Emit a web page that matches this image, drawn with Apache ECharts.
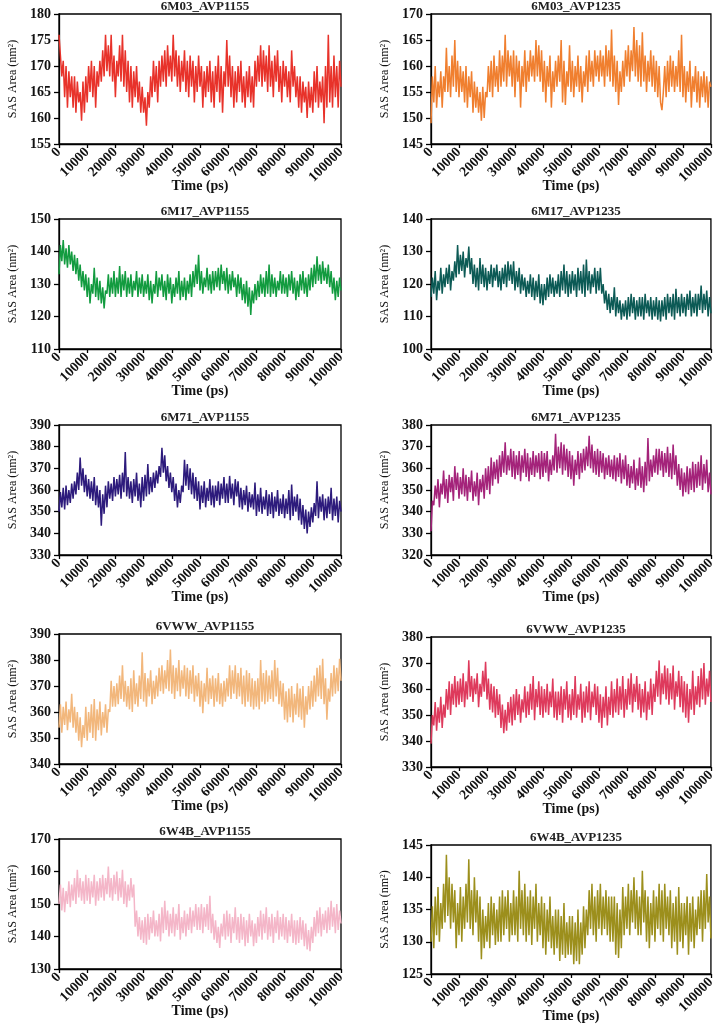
<!DOCTYPE html>
<html><head><meta charset="utf-8">
<script src="https://cdn.jsdelivr.net/npm/echarts@6/dist/echarts.min.js"></script>
<style>html,body{margin:0;padding:0;background:#fff}#c{width:718px;height:1024px}</style>
</head><body><div id="c"></div>
<script>
// ---- data ----
const TIME_STEP_PS = 500; // sampling step of every trace, 0 .. 100000 ps
const xTicks = [0,10000,20000,30000,40000,50000,60000,70000,80000,90000,100000];
const titles = ['6M03_AVP1155','6M03_AVP1235','6M17_AVP1155','6M17_AVP1235','6M71_AVP1155','6M71_AVP1235','6VWW_AVP1155','6VWW_AVP1235','6W4B_AVP1155','6W4B_AVP1235'];
const yMin  = [155,145,110,100,330,320,340,330,130,125];
const yMax  = [180,170,150,140,390,380,390,380,170,145];
const yStep = [5,5,10,10,10,10,10,10,10,5];

const sas6M03_1155 = [
176,172,168,171,164,170,162,169,164,168,
162,168,161,167,163,165,159.5,167,161,168,
163,170,165,171,164,170,162,169,166,171,
167,173,168,176,169,174,168,176,167,172,
164,171,168,174,167,176,166,173,165,171,
163,170,162,169,164,170,163,167,161,166,
161,164,158.5,165,162,168,164,171,165,170,
163,171,166,172,167,173,166,174,168,172,
167,176,168,173,166,172,165,171,167,173,
165,171,164,172,166,171,163,170,165,172,
166,170,162,169,164,170,165,171,163,169,
162,170,165,172,163,170,161,169,166,175,
166,172,164,170,162,169,163,170,165,171,
163,168,162,169,164,170,163,168,162,171,
166,172,167,174,166,173,167,172,165,174,
166,171,164,172,167,173,165,170,163,171,
166,170,164,169,163,173,166,170,164,168,
162,168,161,167,163,166,160,167,162,166,
161,169,163,170,162,167,163,168,159,170,
162,176,163,170,162,172,164,170,162,171,
166];
const sas6M03_1235 = [
149,158,153,160,152,157,154,159,152,158,
155,163.5,155,160,154,162,156,165,155,161,
154,160,155,159,153,160,152,158,154,159,
151,157,152,156,151,155,149.5,156,150,155,
154,160,155,161,154,162,156,160,155,163,
156,162,157,166,156,163,158,162,156,163,
154,162,157,161,152,160,156,163,155,161,
157,163,158,162,157,165,158,164,157,163,
155,161,153,160,156,162,152,159,155,161,
156,162,157,165,153,161,152.5,159,156,164,
155,161,154,160,156,162,155,160,153,159,
156,162,155,163,157,161,156,163,158,162,
157,163,158,162,156,164,158,163,157,167,
156,162,155,161,152.5,159,155,161,156,163,
158,164,157,163,159,167.5,158,165,157,164,
156,166.5,157,162,155,161,157,163,156,162,
155,161,154,160,153,151.5,155,160,154,161,
155,162,156,161,155,160,156,163,155,166,
154,160,153,159,155,161,152,158,155,160,
153,159,152,158,154,159,153,158,152,157,
156];
const sas6M17_1155 = [
133,142,137,143.5,136,141,135,142,136,140,
134,139,133,138,131,136,129,134,128,133,
126,132,124,130,127,135,126,132,125,131,
124,129,122.5,128,127,133,126,132,127,134,
126,132,127,135.5,126,133,128,134,126,132,
127,133,126,131,128,134,126,132,127,133,
126,131,127,133,125,131,124,130,127,134,
126,132,128,133,126,131,125,133,127,132,
124,130,126,132,127,134,125,131,126,132,
125,131,127,133,126,134,129,136,130,139,
128,134,127,132,129,135,128,133,127,134,
128,134,129,135,128,136,130,134,128,135,
127,133,128,134,129,132,126,133,127,132,
125,130,124,131,123,129,120.5,128,124,130,
125,131,126,133,127,132,126,134,127,136,
126,133,127,132,126,131,128,134,127,133,
127,132,126,133,128,134,127,132,125,131,
126,133,128,134,127,132,126,133,128,135,
129,136,130,138.5,131,136,130,137,131,135,
130,136,129,134,127,132,125,131,126,132,
128];
const sas6M17_1235 = [
116,122,117,124,115,121,118,125,117,123,
119,125,120,126,118,124,121,127,122,132,
123,129,124,130,122,128,125,131.5,123,128,
120,126,119,125,118,128,120,126,119,125,
118,124,120,126,119,125,121,126,119,124,
118,125,120,126,119,127,121,126,120,127,
118,124,119,125,117,123,118,122,116,121,
117,123,116,122,115,121,116,123,114,120,
113.5,120,115,122,116,123,117,122,116,121,
117,123,116,124,118,126,117,124,116,123,
117,124,118,123,116,125,118,124,117,126,
116,127.5,118,124,117,123,119,125,117,124,
118,125,117,120,114,118,112,117,111,116,
112,119,110,116,111,115,109,114,110,115,
109,116,110,117,111,116,109,115,110,116,
110,116,109,117,111,115,110,116,109,115,
110,116,109,115,108.5,115,110,116,109,117,
111,116,110,117,109,118.5,111,116,110,117,
111,116,110,117,112,118,110,116,111,117,
110,117,112,119.5,111,117,112,118,110,116,
111];
const sas6M71_1155 = [
350,359,352,361,351,362,353,360,354,363,
356,364,358,368,360,375,362,370,359,367,
357,365,356,364,355,366,353,362,352,360,
343.5,358,349,362,352,364,356,363,355,366,
357,365,358,367,356,368,359,377.5,357,366,
356,364,354,365,357,368,355,363,352,366,
355,367,357,372,358,366,359,368,361,369,
363,371,366,379.5,368,376,364,371,361,368,
359,366,355,363,352,360,354,362,359,374,
362,372,360,370,358,368,356,366,355,364,
351,362,354,364,352,361,355,365,353,362,
352,362,355,364,353,363,356,366,354,363,
354,366.5,356,363,353,365,357,364,352,361,
351,360,353,362,350,359,352,358,351,363.5,
348,358,350,361,349,357,351,360,348,358,
349,359,347,357,350,360,348,356,349,358,
347,356,349,360,346,362.5,348,357,350,358,
346,356,344,353,342,351,340,350,343,352,
345,354,348,364,347,357,350,358,346,356,
347,357,349,361,346,356,348,357,345,355,
350];
const sas6M71_1235 = [
331,345,343,352,346,355,342,353,348,359,
346,355,344,357,349,356,345,361,350,358,
346,356,348,360,347,357,345,356,349,359,
345,354,347,358,343,355,349,357,346,360,
350,361,348,365,352,363,355,364,353,366,
356,368,358,372,357,366,359,369,356,368,
355,366,357,368,354,366,358,369,356,367,
354,365,357,368,356,366,358,367,355,368,
356,367,358,368,354,364,357,366,359,376,
358,370,360,372,357,371,359,369,356,368,
355,366,352,364,357,368,355,367,358,369,
359,370,361,375,360,371,358,368,357,369,
356,368,358,367,355,365,357,366,356,364,
355,366,354,365,356,367,353,364,355,366,
352,362,351,361,353,364,350,360,352,365,
351,361,349,363,352,374,354,364,356,366,
358,369,357,369,359,368,356,367,358,370,
356,367,355,371,357,366,352,362,350,360,
347,358,349,361,348,360,350,363,349,362,
351,363,352,366,350,362,353,364,349,358,
348];
const sas6VWW_1155 = [
354,363,352,362,355,364,353,361,356,367,
354,362,352,360,349,358,346.5,355,350,362,
349,360,352,363,350,365,349,361,353,364,
351,360,354,363,352,361,360,372,362,370,
362,371,363,374,365,378,364,372,362,370,
361,373,360,376,363,371,362,374,365,383,
364,375,362,373,366,376,363,372,365,374,
366,377,368,378,367,376,369,380,368,384,
367,378,365,377,368,380,366,376,369,378,
366,377,365,376,367,378,364,374,366,375,
362,372,359.5,371,364,377,363,373,365,374,
362,373,364,375,363,371,362,372,364,373,
366,378,365,376,367,378,365,375,366,377,
363,374,362,376,364,375,362,373,361,372,
362,373,361,380,364,375,363,376,364,374,
365,376,364,380,366,377,363,372,362,371,
357,368,356,369,358,370,356,367,359,371,
358,369,357,370,354,366,359,370,361,372,
362,374,364,377,366,378,365,380.5,363,373,
357,369,364,375,366,378,367,377,368,380.5,
372];
const sas6VWW_1235 = [
339,350,346,355,344,353,347,357,345,354,
349,360,352,363,350,362,354,365,353,363,
354,364,355,366,353,363,356,371,357,365,
355,364,358,366,353,362,357,367,359,370.5,
356,364,352,362,351,361,349,360,350,358,
345,354,343,352,344,355,347,357,346,358,
348,360,350,358,347,356,351,361,349,359,
350,362,352,365,348,360,353,363,350,361,
349,360,351,362,350,359,353,364,349,359,
348,359,350,361,347,360,352,363,349,358,
348,360,350,365,349,358,352,362,347,359,
349,361,351,363,348,359,353,362,350,361,
347,358,345,357,349,361,346,357,350,363,
349,360,351,364,350,361,352,365,349,360,
352,364,354,366,351,362,355,365,352,362,
349,360,351,363,348,359,352,364,350,362,
355,367,357,371,354,366,358,369,356,368,
354,366,356,369,352,363,357,367,353,365,
351,363,349,362,347,360,352,367,350,361,
354,365,353,368,356,370,354,364,357,367,
355];
const sas6W4B_1155 = [
150,156,148,155,147.5,154,150,157,149,156,
151,158,150,160.5,152,158,151,157,150,159,
151,158,150,157,152,159,149.5,157,151,158,
152,159,151,158,153,161.5,152,158,151,159,
153,160,151,158,152,160.5,150,157,149,156,
151,158,152,156,143,148,140,146,139,145,
138,146,137.5,147,139,146,141,148,140,145,
140,147,138.5,149,141,151,142,148,140,147,
141,149,140,147,142,150,139,146,141,148,
140,147,142,149,141,148,143,150,142,149,
142,150,141,149,143,150,142,152.5,141,147,
139,145,138,143,136.5,144,140,147,139,148,
140,147,138,146,141,149,139,146,138,147,
139,146,137,145,138,147,140,145,137,144,
138,146,140,148,139,147,141,149,139,146,
140,147,138,146,141,148,139,146,140,147,
139,146,138,145,140,147,138,145,137.5,145,
138,146,139,145,137,144,136,142,135.5,143,
138,146,140,148,141,149,140,147,142,148,
141,149,142,151,143,149,141,150,142,148,
144];
const sas6W4B_1235 = [
130,135.5,129,137,131,138.5,130,136,132,139,
133,143.5,134,140,132,139,133,138,129,136,
131,138.5,130,137,132,139,133,142.8,132,138,
131,140,133,138,130,137,127.3,135,129,134,
130,136,129,137,131,136,129.5,135,130,137,
130,138,131,137,132,138,130,136,131,138,
131,137,130,141,132,138,131,139,130,137,
131,138,129.5,137,132,139,130,136,131,137,
129,136,128,135,130,137,129,134,128,135,
129,135,127,134,128,136,127.5,133,128,134,
128,134,126.5,133,127,135,126.5,133,128,135.5,
129,135,131,138,132,139,131,137,130,138,
132,139,131,137,132,138,131,137,130,137,
130,137,128,136,127.5,135,129,138.5,131,137,
132,139,131,138,133,140,132,138,131,137,
131,141,133,138,130,137,129,136,131,138,
130,137,132,139,131,138,130,139,132,137,
131,138,129,136,130,137,128,138.5,130,136,
129,136,131,137,128,136,130,137,129,135,
131,137,132,138,130,138,132,140.5,133,137,
130.5];

const seriesValues = [sas6M03_1155, sas6M03_1235, sas6M17_1155, sas6M17_1235, sas6M71_1155, sas6M71_1235, sas6VWW_1155, sas6VWW_1235, sas6W4B_1155, sas6W4B_1235];

// ---- styles / layout ----
const colors = ['#E8322A','#F07F2F','#129B3F','#0C5A55','#2D1B7C','#A4237A','#F2B77C','#DE3A5C','#F4B6C8','#9C8F1C'];
const boxes = [
  {left:59, top:14, width:282}, {left:431, top:14, width:280},
  {left:59, top:219, width:282}, {left:431, top:219, width:280},
  {left:59, top:425, width:282}, {left:431, top:425, width:280},
  {left:59, top:634, width:282}, {left:431, top:637, width:280},
  {left:59, top:839, width:282}, {left:431, top:845, width:280}
];
const PH = 130;
const FONT = '"Liberation Serif", "Times New Roman", serif';

const grid = [], xAxis = [], yAxis = [], series = [], title = [];
seriesValues.forEach((vals, i) => {
  const b = boxes[i];
  grid.push({left:b.left, top:b.top, width:b.width, height:PH, show:true, borderColor:'#000', borderWidth:1.3, backgroundColor:'transparent'});
  title.push({text:titles[i], left:b.left + b.width/2, top:b.top - 19, textAlign:'center',
    textStyle:{fontFamily:FONT, fontWeight:'bold', fontSize:13, color:'#222'}});
  xAxis.push({gridIndex:i, type:'value', min:xTicks[0], max:xTicks[xTicks.length-1], interval:xTicks[1]-xTicks[0],
    name:'Time (ps)', nameLocation:'middle', nameGap:35, nameMoveOverlap:false,
    nameTextStyle:{fontFamily:FONT, fontWeight:'bold', fontSize:14, color:'#111'},
    axisLine:{show:true, onZero:false, lineStyle:{color:'#000', width:1.3}},
    axisTick:{show:true, length:4, lineStyle:{color:'#000', width:1.3}},
    axisLabel:{rotate:45, margin:6, fontFamily:FONT, fontWeight:'bold', fontSize:14, color:'#111', showMinLabel:true, showMaxLabel:true,
      formatter: v => String(v)},
    splitLine:{show:false}});
  yAxis.push({gridIndex:i, type:'value', min:yMin[i], max:yMax[i], interval:yStep[i],
    name:'SAS Area (nm²)', nameLocation:'middle', nameRotate:90, nameGap:40,
    nameTextStyle:{fontFamily:FONT, fontSize:12, color:'#111'},
    axisLine:{show:true, onZero:false, lineStyle:{color:'#000', width:1.3}},
    axisTick:{show:true, length:5, lineStyle:{color:'#000', width:1.3}},
    axisLabel:{margin:8, fontFamily:FONT, fontWeight:'bold', fontSize:14, color:'#111'},
    splitLine:{show:false}});
  series.push({type:'line', xAxisIndex:i, yAxisIndex:i, showSymbol:false, symbol:'none',
    data: vals.map((v, k) => [k*TIME_STEP_PS, v]),
    lineStyle:{color:colors[i], width:1.5}, itemStyle:{color:colors[i]}, silent:true});
});

const chart = echarts.init(document.getElementById('c'), null, {renderer:'canvas'});
chart.setOption({backgroundColor:'#fff', animation:false, title, grid, xAxis, yAxis, series, tooltip:{show:false}});
</script>
</body></html>
